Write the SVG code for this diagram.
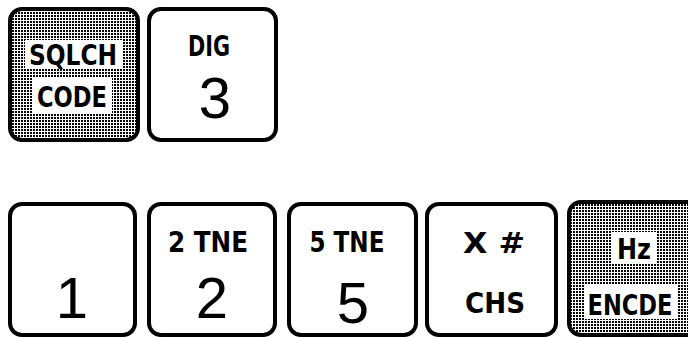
<svg xmlns="http://www.w3.org/2000/svg" width="688" height="337" viewBox="0 0 688 337">
<defs>
<pattern id="dots" width="3" height="3" patternUnits="userSpaceOnUse">
<rect width="3" height="3" fill="#fff"/>
<rect x="0" y="0" width="2" height="2" fill="#000"/>
</pattern>
</defs>
<style>
.key{fill:#fff;stroke:#000;stroke-width:4}
.shade{fill:url(#dots);stroke:#000;stroke-width:4}
.lbl{font-family:"DejaVu Sans Condensed","DejaVu Sans",sans-serif;font-weight:bold;font-size:28px;text-anchor:middle;fill:#000}
.big{font-family:"Liberation Sans",Arial,sans-serif;font-weight:normal;font-size:58px;text-anchor:middle;fill:#000}
.wbox{fill:#fff}
</style>
<rect width="688" height="337" fill="#fff"/>
<g id="key-sqlch">
<rect class="shade" x="10" y="9" width="128" height="131" rx="12"/>
<rect class="wbox" x="25" y="40" width="97" height="29"/>
<rect class="wbox" x="32" y="78" width="80" height="35"/>
<text class="lbl" x="73" y="65" textLength="88" lengthAdjust="spacingAndGlyphs">SQLCH</text>
<text class="lbl" x="72" y="107" textLength="70" lengthAdjust="spacingAndGlyphs">CODE</text>
</g>
<g id="key-dig">
<rect class="key" x="149" y="9" width="127" height="131" rx="12"/>
<text class="lbl" x="209" y="56" textLength="42" lengthAdjust="spacingAndGlyphs">DIG</text>
<text class="big" x="215" y="118" font-size="50">3</text>
</g>
<g id="key-1">
<rect class="key" x="10" y="204" width="125" height="131" rx="12"/>
<text class="big" x="72" y="318">1</text>
</g>
<g id="key-2">
<rect class="key" x="149" y="204" width="126" height="131" rx="12"/>
<text class="lbl" x="208" y="252" textLength="80" lengthAdjust="spacingAndGlyphs">2 TNE</text>
<text class="big" x="212" y="318">2</text>
</g>
<g id="key-5">
<rect class="key" x="289" y="204" width="127" height="131" rx="12"/>
<text class="lbl" x="347" y="252" textLength="75" lengthAdjust="spacingAndGlyphs">5 TNE</text>
<text class="big" x="353" y="323">5</text>
</g>
<g id="key-chs">
<rect class="key" x="427" y="204" width="129" height="131" rx="12"/>
<text class="lbl" x="494" y="253" textLength="62" lengthAdjust="spacingAndGlyphs">X  #</text>
<text class="lbl" x="495" y="313" textLength="60" lengthAdjust="spacingAndGlyphs">CHS</text>
</g>
<g id="key-hz">
<rect class="shade" x="569" y="202" width="130" height="133" rx="12"/>
<rect class="wbox" x="612" y="232" width="44" height="31"/>
<rect class="wbox" x="584" y="284" width="94" height="35"/>
<text class="lbl" x="634" y="259" textLength="34" lengthAdjust="spacingAndGlyphs">Hz</text>
<text class="lbl" x="630" y="315" textLength="85" lengthAdjust="spacingAndGlyphs">ENCDE</text>
</g>
<g id="connectors"/>
</svg>
